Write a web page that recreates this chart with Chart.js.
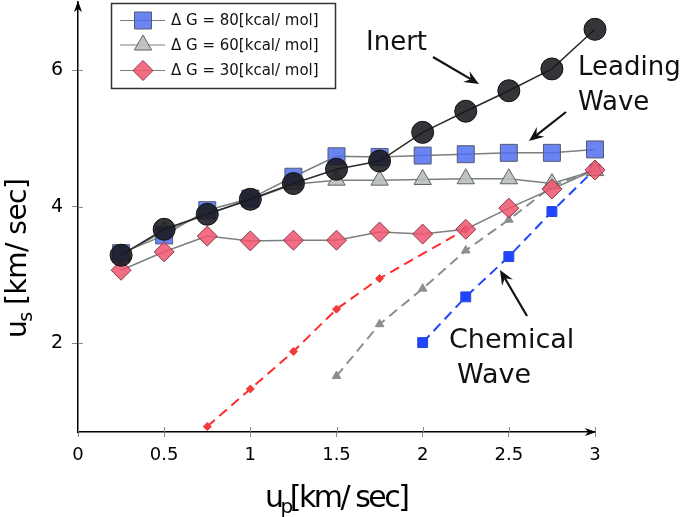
<!DOCTYPE html>
<html>
<head>
<meta charset="utf-8">
<script src="https://cdn.jsdelivr.net/npm/chart.js@4"></script>
<style>
  html, body { margin: 0; padding: 0; background: #fff; }
  #wrap { width: 685px; height: 517px; }
</style>
</head>
<body>
<div id="wrap"><canvas id="myChart" width="685" height="517"></canvas></div>
<script>
const ctx = document.getElementById("myChart").getContext("2d");

// particle velocity grid (km/sec)
const upGrid = [0.25, 0.5, 0.75, 1, 1.25, 1.5, 1.75, 2, 2.25, 2.5, 2.75, 3];

// shock velocity, solid lines (leading wave + inert)
const inert = [3.29, 3.67, 3.89, 4.11, 4.34, 4.55, 4.67, 5.09, 5.40, 5.70, 6.02, 6.60];
const lead80 = [3.32, 3.58, 3.95, 4.12, 4.44, 4.74, 4.73, 4.75, 4.77, 4.79, 4.79, 4.84];
const lead60 = [3.30, 3.64, 3.90, 4.10, 4.33, 4.39, 4.39, 4.40, 4.41, 4.41, 4.34, 4.53];
const lead30 = [3.07, 3.34, 3.57, 3.50, 3.51, 3.51, 3.63, 3.60, 3.67, 3.98, 4.26, 4.54];

// chemical wave, dashed lines
const chem30X = [0.75, 1, 1.25, 1.5, 1.75, 2.25];
const chem30 = [0.78, 1.33, 1.88, 2.50, 2.95, 3.67];
const chem60X = [1.5, 1.75, 2, 2.25, 2.5, 2.75, 3];
const chem60 = [1.52, 2.28, 2.80, 3.36, 3.81, 4.30, 4.55];
const chem80X = [2, 2.25, 2.5, 2.75, 3];
const chem80 = [2.01, 2.68, 3.27, 3.93, 4.55];

const legendLabels = ["\u0394 G = 80[kcal/ mol]", "\u0394 G = 60[kcal/ mol]", "\u0394 G = 30[kcal/ mol]"];
const yTicks = [2, 4, 6];

const pts = (xs, ys) => xs.map((x, i) => ({ x: x, y: ys[i] }));

const FONT = "'DejaVu Sans', sans-serif";

const leadSets = [
  { label: legendLabels[0], data: pts(upGrid, lead80), pointStyle: "rect", pointRadius: 12,
    pointBackgroundColor: "rgba(80,110,240,0.85)", pointBorderColor: "#555a70", borderColor: "#7a807e", order: 4 },
  { label: legendLabels[1], data: pts(upGrid, lead60), pointStyle: "triangle", pointRadius: 10,
    pointBackgroundColor: "rgba(185,190,188,0.9)", pointBorderColor: "#5f6462", borderColor: "#7a807e", order: 5 },
  { label: legendLabels[2], data: pts(upGrid, lead30), pointStyle: "rectRot", pointRadius: 10,
    pointBackgroundColor: "rgba(240,85,110,0.85)", pointBorderColor: "#8a3a48", borderColor: "#7a807e", order: 3 },
];

const datasets = [
  { label: "Inert", data: pts(upGrid, inert), pointStyle: "circle", pointRadius: 11,
    pointBackgroundColor: "rgba(25,25,30,0.88)", pointBorderColor: "#111", borderColor: "#2a2a2a", order: 1 },
  ...leadSets,
  { label: "chem30", data: pts(chem30X, chem30), pointStyle: "rectRot", pointRadius: 4,
    pointBackgroundColor: "#f43a3a", pointBorderColor: "#f43a3a", borderColor: "#ff2a2a",
    borderDash: [10, 6], borderWidth: 2, order: 8 },
  { label: "chem60", data: pts(chem60X, chem60), pointStyle: "triangle", pointRadius: 5,
    pointBackgroundColor: "#8c8f8e", pointBorderColor: "#8c8f8e", borderColor: "#8c8f8e",
    borderDash: [10, 6], borderWidth: 2, order: 9 },
  { label: "chem80", data: pts(chem80X, chem80), pointStyle: "rect", pointRadius: 7,
    pointBackgroundColor: "#1f45ff", pointBorderColor: "#2a4ad8", borderColor: "#1f45ff",
    borderDash: [10, 6], borderWidth: 2, order: 10 },
];
datasets.forEach((d) => {
  d.borderWidth = d.borderWidth || 1.5;
  d.pointBorderWidth = 1;
  d.fill = false;
  d.tension = 0;
  d.clip = 20;
});

function arrow(c, x1, y1, x2, y2, head, width) {
  const a = Math.atan2(y2 - y1, x2 - x1);
  c.beginPath();
  c.moveTo(x1, y1);
  c.lineTo(x2 - Math.cos(a) * head * 0.6, y2 - Math.sin(a) * head * 0.6);
  c.lineWidth = width;
  c.stroke();
  c.beginPath();
  c.moveTo(x2, y2);
  c.lineTo(x2 - head * Math.cos(a - 0.4), y2 - head * Math.sin(a - 0.4));
  c.lineTo(x2 - head * 0.6 * Math.cos(a), y2 - head * 0.6 * Math.sin(a));
  c.lineTo(x2 - head * Math.cos(a + 0.4), y2 - head * Math.sin(a + 0.4));
  c.closePath();
  c.fill();
}

const decorations = {
  id: "decorations",
  afterDatasetsDraw(chart) {
    const c = chart.ctx;
    const area = chart.chartArea;
    const xs = chart.scales.x, ys = chart.scales.y;
    c.save();

    // inner half of tick marks
    c.strokeStyle = "#8a8a8a";
    c.lineWidth = 1;
    xs.ticks.forEach((t) => {
      const px = Math.round(xs.getPixelForValue(t.value)) + 0.5;
      c.beginPath(); c.moveTo(px, area.bottom); c.lineTo(px, area.bottom - 5); c.stroke();
    });
    yTicks.forEach((v) => {
      const py = Math.round(ys.getPixelForValue(v)) + 0.5;
      c.beginPath(); c.moveTo(area.left, py); c.lineTo(area.left + 5, py); c.stroke();
    });

    // axis arrow heads
    c.fillStyle = "#000";
    c.strokeStyle = "#000";
    c.beginPath();
    c.moveTo(area.right + 1, area.bottom);
    c.lineTo(area.right - 10, area.bottom - 4);
    c.lineTo(area.right - 7, area.bottom);
    c.lineTo(area.right - 10, area.bottom + 4);
    c.closePath(); c.fill();
    c.beginPath();
    c.moveTo(area.left, area.top - 1);
    c.lineTo(area.left - 4, area.top + 10);
    c.lineTo(area.left, area.top + 7);
    c.lineTo(area.left + 4, area.top + 10);
    c.closePath(); c.fill();

    // annotations
    c.fillStyle = "#111";
    c.font = "26px " + FONT;
    c.textBaseline = "alphabetic";
    c.fillText("Inert", 366, 50);
    c.fillText("Leading", 578, 75);
    c.fillText("Wave", 578, 110);
    c.font = "27px " + FONT;
    c.fillText("Chemical", 449, 348);
    c.fillText("Wave", 457, 383);
    c.strokeStyle = "#111";
    c.fillStyle = "#111";
    arrow(c, 433, 57, 479, 84, 16, 2.2);
    arrow(c, 566, 112, 529, 141, 16, 2.2);
    arrow(c, 527, 316, 500, 270, 16, 2.2);

    // legend box
    const bx = 111, by = 3, bw = 224, bh = 85;
    c.fillStyle = "#fff";
    c.fillRect(bx, by, bw, bh);
    c.strokeStyle = "#333";
    c.lineWidth = 1.5;
    c.strokeRect(bx + 0.5, by + 0.5, bw, bh);
    const rows = [20.5, 45, 70.5];
    leadSets.forEach((d, i) => {
      const y = rows[i];
      c.strokeStyle = d.borderColor;
      c.lineWidth = 1.2;
      c.beginPath(); c.moveTo(120, y); c.lineTo(165, y); c.stroke();
      c.fillStyle = d.pointBackgroundColor;
      c.strokeStyle = d.pointBorderColor;
      c.lineWidth = 1;
      Chart.helpers.drawPoint(c, { pointStyle: d.pointStyle, radius: d.pointRadius, rotation: 0, borderWidth: 1 }, 143, y);
      c.fillStyle = "#111";
      c.font = "15px " + FONT;
      c.textBaseline = "middle";
      c.fillText(d.label, 171, y + 1);
    });

    // axis titles with subscripts
    c.fillStyle = "#000";
    c.textBaseline = "alphabetic";
    c.letterSpacing = "-2.5px";
    // x title
    let x0 = 265, base = 507;
    c.font = "30px " + FONT;
    c.fillText("u", x0, base);
    let w = c.measureText("u").width;
    c.font = "20px " + FONT;
    c.fillText("p", x0 + w - 1, base + 6);
    let w2 = c.measureText("p").width;
    c.font = "30px " + FONT;
    c.fillText("[km/ sec]", x0 + w + w2 - 2, base);
    // y title
    c.letterSpacing = "-0.5px";
    c.translate(26, 338);
    c.rotate(-Math.PI / 2);
    c.font = "28px " + FONT;
    c.fillText("u", 0, 0);
    w = c.measureText("u").width;
    c.font = "19px " + FONT;
    c.fillText("s", w - 1, 6);
    w2 = c.measureText("s").width;
    c.font = "28px " + FONT;
    c.fillText(" [km/ sec]", w + w2 - 2, 0);
    c.restore();
  },
};

const myChart = new Chart(ctx, {
  type: "line",
  data: { datasets: datasets },
  options: {
    responsive: false,
    animation: false,
    layout: { autoPadding: false, padding: { left: 0, top: 2, right: 90, bottom: 0 } },
    plugins: { legend: { display: false }, tooltip: { enabled: false } },
    scales: {
      x: {
        type: "linear",
        min: 0,
        max: 3,
        afterFit: (s) => { s.height = 85; s.paddingLeft = 0; s.paddingRight = 0; },
        ticks: { stepSize: 0.5, color: "#000", font: { family: "DejaVu Sans", size: 18 }, padding: 8, maxRotation: 0,
          callback: (v) => String(v) },
        grid: { drawOnChartArea: false, drawTicks: true, tickLength: 5, color: "#8a8a8a" },
        border: { color: "#000", width: 1.5 },
      },
      y: {
        type: "linear",
        min: 0.7,
        max: 7,
        afterFit: (s) => { s.width = 78; s.paddingTop = 0; s.paddingBottom = 0; },
        afterBuildTicks: (s) => { s.ticks = yTicks.map((v) => ({ value: v })); },
        ticks: { color: "#000", font: { family: "DejaVu Sans", size: 19 }, padding: 9 },
        grid: { drawOnChartArea: false, drawTicks: true, tickLength: 6, color: "#8a8a8a" },
        border: { color: "#000", width: 1.5 },
      },
    },
  },
  plugins: [decorations],
});
</script>
</body>
</html>
